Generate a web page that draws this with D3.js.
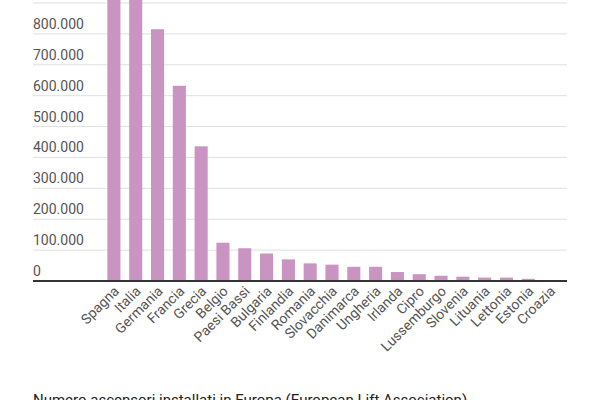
<!DOCTYPE html>
<html>
<head>
<meta charset="utf-8">
<script src="https://cdn.jsdelivr.net/npm/d3@7"></script>
<style>
  body { margin: 0; background: #fff; }
  svg { font-family: Roboto, sans-serif; }
</style>
</head>
<body>
<svg id="chart" width="600" height="400"></svg>
<script>
const countries = ['Spagna', 'Italia', 'Germania', 'Francia', 'Grecia', 'Belgio', 'Paesi Bassi',
  'Bulgaria', 'Finlandia', 'Romania', 'Slovacchia', 'Danimarca', 'Ungheria', 'Irlanda', 'Cipro',
  'Lussemburgo', 'Slovenia', 'Lituania', 'Lettonia', 'Estonia', 'Croazia']
const lifts = [950000, 930000, 815000, 632000, 436000, 124000, 106000,
  89000, 70000, 57000, 53000, 46000, 46000, 29000, 22000,
  17000, 14000, 11000, 11000, 7000, 1000]
const yTicks = [0, 100000, 200000, 300000, 400000, 500000, 600000, 700000, 800000]
const footnote = 'Numero ascensori installati in Europa (European Lift Association)'

const svg = d3.select('#chart')

const x = d3.scaleBand()
  .domain(countries)
  .range([103, 561])
  .paddingInner(0.4)
  .paddingOuter(0.2)

const y = d3.scaleLinear()
  .domain([0, 900000])
  .range([281, 3])

const fmt = v => d3.format(',')(v).replace(/,/g, '.')

// gridlines (top one has no visible label)
const grid = svg.append('g')
grid.selectAll('line')
  .data(yTicks.filter(d => d > 0).concat([900000]))
  .enter().append('line')
  .attr('x1', 33).attr('x2', 567)
  .attr('y1', d => y(d)).attr('y2', d => y(d))
  .attr('stroke', '#e0e0e0')
  .attr('stroke-width', 1)

grid.selectAll('text')
  .data(yTicks)
  .enter().append('text')
  .attr('x', 33)
  .attr('y', d => y(d) - 5)
  .attr('font-size', 14)
  .attr('fill', '#555')
  .text(d => fmt(d))

// bars
svg.append('g')
  .selectAll('rect')
  .data(lifts)
  .enter().append('rect')
  .attr('x', (d, i) => x(countries[i]))
  .attr('width', x.bandwidth())
  .attr('y', d => y(d))
  .attr('height', d => y(0) - y(d))
  .attr('fill', '#c994c1')

// baseline
svg.append('line')
  .attr('x1', 33).attr('x2', 567)
  .attr('y1', y(0)).attr('y2', y(0))
  .attr('stroke', '#333')
  .attr('stroke-width', 2)

// category labels
svg.append('g')
  .selectAll('text')
  .data(countries)
  .enter().append('text')
  .attr('transform', d => `translate(${x(d) + x.bandwidth() / 2 + 6}, 292) rotate(-45)`)
  .attr('text-anchor', 'end')
  .attr('font-size', 14)
  .attr('fill', '#555')
  .text(d => d)

svg.append('text')
  .attr('x', 33)
  .attr('y', 405)
  .attr('font-size', 15)
  .attr('fill', '#222')
  .text(footnote)
</script>
</body>
</html>
